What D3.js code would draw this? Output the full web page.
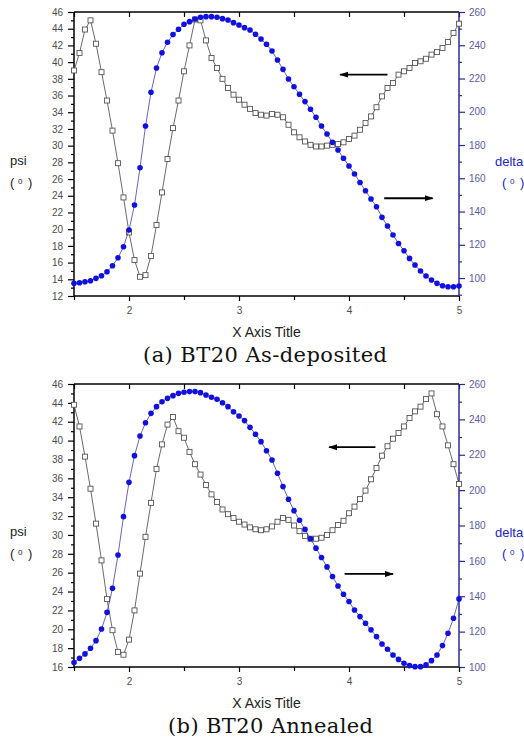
<!DOCTYPE html>
<html>
<head>
<meta charset="utf-8">
<script src="https://cdn.jsdelivr.net/npm/d3@7"></script>
<style>
  body { margin: 0; background: #fff; }
  svg text { font-family: "Liberation Sans", Arial, sans-serif; }
</style>
</head>
<body>
<div id="chart"></div>
<script>
// photon energy (x), shared by both panels
var energy = [1.5, 1.55, 1.6, 1.65, 1.7, 1.75, 1.8, 1.85, 1.9, 1.95,
    2.0, 2.05, 2.1, 2.15, 2.2, 2.25, 2.3, 2.35, 2.4, 2.45,
    2.5, 2.55, 2.6, 2.65, 2.7, 2.75, 2.8, 2.85, 2.9, 2.95,
    3.0, 3.05, 3.1, 3.15, 3.2, 3.25, 3.3, 3.35, 3.4, 3.45,
    3.5, 3.55, 3.6, 3.65, 3.7, 3.75, 3.8, 3.85, 3.9, 3.95,
    4.0, 4.05, 4.1, 4.15, 4.2, 4.25, 4.3, 4.35, 4.4, 4.45,
    4.5, 4.55, 4.6, 4.65, 4.7, 4.75, 4.8, 4.85, 4.9, 4.95, 5.0];

// (a) as-deposited
var psiDeposited = [39.0, 41.1, 43.9, 45.0, 42.2, 38.8, 35.4, 31.8, 27.9, 23.8,
    19.6, 16.3, 14.3, 14.5, 16.8, 20.5, 24.4, 28.4, 32.1, 35.4,
    38.9, 42.0, 45.1, 45.0, 42.6, 40.5, 39.3, 38.0, 36.9, 36.1,
    35.5, 34.9, 34.4, 33.9, 33.7, 33.6, 33.8, 33.7, 33.4, 32.5,
    31.6, 31.0, 30.5, 30.1, 29.9, 29.9, 30.0, 30.1, 30.2, 30.4,
    30.8, 31.2, 31.9, 32.7, 33.5, 34.6, 35.9, 36.9, 37.5, 38.5,
    38.9, 39.3, 39.9, 40.1, 40.4, 40.9, 41.2, 41.7, 42.4, 43.5, 44.6];
var deltaDeposited = [96.8, 97.2, 97.8, 98.4, 99.8, 101.4, 103.8, 107.4, 112.2, 118.8,
    128.9, 143.9, 166.3, 191.4, 211.7, 226.3, 235.5, 241.8, 246.4, 249.6,
    252.6, 254.2, 255.8, 256.8, 257.2, 257.2, 256.8, 256.0, 255.2, 253.6,
    252.2, 250.6, 249.2, 246.6, 243.8, 240.6, 236.5, 231.1, 225.5, 219.7,
    215.0, 210.5, 206.1, 201.5, 196.7, 191.4, 186.6, 181.6, 177.0, 172.0,
    167.4, 162.6, 157.5, 152.5, 147.5, 142.9, 136.5, 131.3, 125.9, 120.8,
    116.4, 111.8, 107.8, 104.2, 101.2, 98.8, 96.8, 95.4, 94.8, 94.8, 95.2];

// (b) annealed
var psiAnnealed = [43.8, 41.5, 38.3, 34.9, 31.2, 27.3, 23.2, 19.9, 17.6, 17.3,
    18.9, 22.0, 25.9, 29.8, 33.4, 37.0, 39.6, 41.7, 42.5, 41.0,
    40.3, 38.8, 37.5, 36.4, 35.3, 34.3, 33.5, 32.7, 32.2, 31.8,
    31.4, 31.1, 30.8, 30.6, 30.5, 30.6, 30.9, 31.4, 31.8, 31.6,
    31.0, 30.4, 29.9, 29.6, 29.6, 29.7, 30.0, 30.5, 31.05, 31.5,
    32.3, 33.0, 33.8, 34.7, 35.9, 37.1, 38.4, 39.4, 40.2, 40.8,
    41.5, 42.4, 43.1, 43.6, 44.4, 45.0, 42.8, 41.5, 39.5, 37.5, 35.4];
var deltaAnnealed = [102.5, 104.9, 107.4, 110.6, 114.9, 121.5, 130.9, 144.5, 163.3, 185.0,
    204.4, 219.5, 230.6, 238.1, 243.4, 247.2, 250.0, 251.9, 253.4, 254.7,
    255.3, 255.7, 255.7, 255.1, 253.8, 252.5, 251.4, 249.4, 247.2, 244.3,
    241.9, 239.3, 235.5, 231.6, 227.4, 222.3, 217.0, 209.5, 202.0, 194.8,
    188.4, 183.0, 177.8, 172.5, 167.2, 161.9, 156.6, 151.2, 145.8, 141.1,
    137.0, 132.2, 128.5, 124.7, 121.0, 117.2, 113.0, 110.0, 106.8, 104.3,
    102.1, 100.8, 100.2, 100.2, 101.2, 103.6, 106.8, 112.1, 119.1, 127.6, 138.5];

// tick labels
var xTicks = [2, 3, 4, 5];
var xMinorTicks = [1.5, 2.5, 3.5, 4.5];
var psiTicksDeposited = [12, 14, 16, 18, 20, 22, 24, 26, 28, 30, 32, 34, 36, 38, 40, 42, 44, 46];
var psiTicksAnnealed = [16, 18, 20, 22, 24, 26, 28, 30, 32, 34, 36, 38, 40, 42, 44, 46];
var deltaTicks = [100, 120, 140, 160, 180, 200, 220, 240, 260];

// arrows: [x from, x to, value] on the axis they point to
var arrowsDeposited = { psi: [4.35, 3.92, 38.5], delta: [4.32, 4.76, 148] };
var arrowsAnnealed = { psi: [4.24, 3.82, 39.3], delta: [3.96, 4.4, 152.6] };

var W = 524, H = 742;
var left = 74, right = 459;
var blue = "#1010e0", axisBlue = "#2b2b90";

var svg = d3.select("#chart").append("svg")
    .attr("width", W)
    .attr("height", H);

svg.append("defs").append("marker")
    .attr("id", "head")
    .attr("markerUnits", "userSpaceOnUse")
    .attr("markerWidth", 9).attr("markerHeight", 7)
    .attr("refX", 8).attr("refY", 3.5)
    .attr("orient", "auto")
    .append("path").attr("d", "M0,0.5 L9,3.5 L0,6.5 Z").attr("fill", "#000");

var panels = [
    { top: 12, bottom: 296, psiDomain: [12, 46], deltaDomain: [89.2, 260],
      psi: psiDeposited, delta: deltaDeposited, psiTicks: psiTicksDeposited,
      arrows: arrowsDeposited, labelY: 165, caption: "(a) BT20 As-deposited", capX: 143, capW: 244 },
    { top: 384, bottom: 667, psiDomain: [16, 46], deltaDomain: [100, 260],
      psi: psiAnnealed, delta: deltaAnnealed, psiTicks: psiTicksAnnealed,
      arrows: arrowsAnnealed, labelY: 536, caption: "(b) BT20 Annealed", capX: 168, capW: 205 }
];

panels.forEach(drawPanel);

function drawPanel(p) {
    var x = d3.scaleLinear().domain([1.5, 5]).range([left, right]);
    var yL = d3.scaleLinear().domain(p.psiDomain).range([p.bottom, p.top]);
    var yR = d3.scaleLinear().domain(p.deltaDomain).range([p.bottom, p.top]);
    var g = svg.append("g");

    var psiMinor = d3.range(p.psiDomain[0], p.psiDomain[1] + 1, 1).filter(function (v) { return p.psiTicks.indexOf(v) < 0; });
    var deltaMinor = d3.range(90, 261, 10).filter(function (v) { return v >= p.deltaDomain[0] && deltaTicks.indexOf(v) < 0; });

    // left axis
    g.append("g").attr("transform", "translate(" + left + ",0)")
        .call(d3.axisLeft(yL).tickValues(p.psiTicks).tickSize(6).tickPadding(5));
    g.append("g").attr("transform", "translate(" + left + ",0)")
        .call(d3.axisLeft(yL).tickValues(psiMinor).tickSize(3).tickFormat(""));

    // right axis
    var ra = g.append("g").attr("transform", "translate(" + right + ",0)")
        .call(d3.axisRight(yR).tickValues(deltaTicks).tickSize(6).tickPadding(4));
    var rm = g.append("g").attr("transform", "translate(" + right + ",0)")
        .call(d3.axisRight(yR).tickValues(deltaMinor).tickSize(3).tickFormat(""));

    // bottom axis
    g.append("g").attr("transform", "translate(0," + p.bottom + ")")
        .call(d3.axisBottom(x).tickValues(xTicks).tickSize(5).tickPadding(6).tickFormat(d3.format("d")));
    g.append("g").attr("transform", "translate(0," + p.bottom + ")")
        .call(d3.axisBottom(x).tickValues(xMinorTicks).tickSize(4).tickFormat(""));

    // top axis, ticks inward
    g.append("g").attr("transform", "translate(0," + p.top + ")")
        .call(d3.axisTop(x).tickValues(xMinorTicks.concat(xTicks)).tickSize(-5).tickFormat(""));

    g.selectAll(".domain").remove();
    g.selectAll(".tick line").attr("stroke", "#000").attr("stroke-width", 1.2);
    ra.selectAll(".tick line").attr("stroke", axisBlue);
    rm.selectAll(".tick line").attr("stroke", axisBlue);
    g.selectAll(".tick text").attr("font-size", 10).attr("fill", "#4d4d4d")
        .style("font-family", "'Liberation Sans', Arial, sans-serif");
    ra.selectAll(".tick text").attr("fill", "#5c5c9c");

    // frame
    g.append("line").attr("x1", left).attr("x2", right).attr("y1", p.top).attr("y2", p.top)
        .attr("stroke", "#000").attr("stroke-width", 1.5);
    g.append("line").attr("x1", left).attr("x2", right).attr("y1", p.bottom).attr("y2", p.bottom)
        .attr("stroke", "#000").attr("stroke-width", 1.5);
    g.append("line").attr("x1", left).attr("x2", left).attr("y1", p.top).attr("y2", p.bottom)
        .attr("stroke", "#000").attr("stroke-width", 1.5);
    g.append("line").attr("x1", right).attr("x2", right).attr("y1", p.top).attr("y2", p.bottom)
        .attr("stroke", axisBlue).attr("stroke-width", 1.5);

    var psiData = energy.map(function (e, i) { return { x: e, v: p.psi[i] }; });
    var deltaData = energy.map(function (e, i) { return { x: e, v: p.delta[i] }; });

    // psi series: open squares
    g.append("path").datum(psiData)
        .attr("fill", "none").attr("stroke", "#444").attr("stroke-width", 0.8)
        .attr("d", d3.line().x(function (d) { return x(d.x); }).y(function (d) { return yL(d.v); }));
    g.selectAll(".sq").data(psiData).enter().append("rect")
        .attr("class", "sq")
        .attr("x", function (d) { return x(d.x) - 2.5; })
        .attr("y", function (d) { return yL(d.v) - 2.5; })
        .attr("width", 5).attr("height", 5)
        .attr("fill", "#fff").attr("stroke", "#555").attr("stroke-width", 0.9);

    // delta series: filled dots
    g.append("path").datum(deltaData)
        .attr("fill", "none").attr("stroke", "#4040a0").attr("stroke-width", 0.8)
        .attr("d", d3.line().x(function (d) { return x(d.x); }).y(function (d) { return yR(d.v); }));
    g.selectAll(".dot").data(deltaData).enter().append("circle")
        .attr("class", "dot")
        .attr("cx", function (d) { return x(d.x); })
        .attr("cy", function (d) { return yR(d.v); })
        .attr("r", 2.8)
        .attr("fill", blue);

    // arrows
    var a = p.arrows;
    g.append("line").attr("x1", x(a.psi[0])).attr("x2", x(a.psi[1]))
        .attr("y1", yL(a.psi[2])).attr("y2", yL(a.psi[2]))
        .attr("stroke", "#000").attr("stroke-width", 1.8).attr("marker-end", "url(#head)");
    g.append("line").attr("x1", x(a.delta[0])).attr("x2", x(a.delta[1]))
        .attr("y1", yR(a.delta[2])).attr("y2", yR(a.delta[2]))
        .attr("stroke", "#000").attr("stroke-width", 1.8).attr("marker-end", "url(#head)");

    // axis titles
    g.append("text").attr("x", 10).attr("y", p.labelY)
        .attr("font-size", 13).attr("fill", "#222").text("psi");
    degree(g, 10, p.labelY + 22, "#222");
    g.append("text").attr("x", 495).attr("y", p.labelY + 1)
        .attr("font-size", 13).attr("fill", "#2323c0").text("delta");
    degree(g, 502, p.labelY + 22, "#2323c0");

    g.append("text").attr("x", (left + right) / 2).attr("y", p.bottom + 41)
        .attr("text-anchor", "middle").attr("font-size", 14).attr("fill", "#222")
        .text("X Axis Title");

    g.append("text").attr("x", p.capX).attr("y", p.bottom + 66)
        .attr("font-size", 21).attr("fill", "#111")
        .attr("textLength", p.capW).attr("lengthAdjust", "spacing")
        .style("font-family", "'DejaVu Serif', 'Liberation Serif', serif")
        .text(p.caption);
}

function degree(g, x0, y0, col) {
    g.append("text").attr("x", x0).attr("y", y0).attr("font-size", 13).attr("fill", col).text("(");
    g.append("text").attr("x", x0 + 8).attr("y", y0 - 3).attr("font-size", 8).attr("fill", col).text("0");
    g.append("text").attr("x", x0 + 18).attr("y", y0).attr("font-size", 13).attr("fill", col).text(")");
}
</script>
</body>
</html>
